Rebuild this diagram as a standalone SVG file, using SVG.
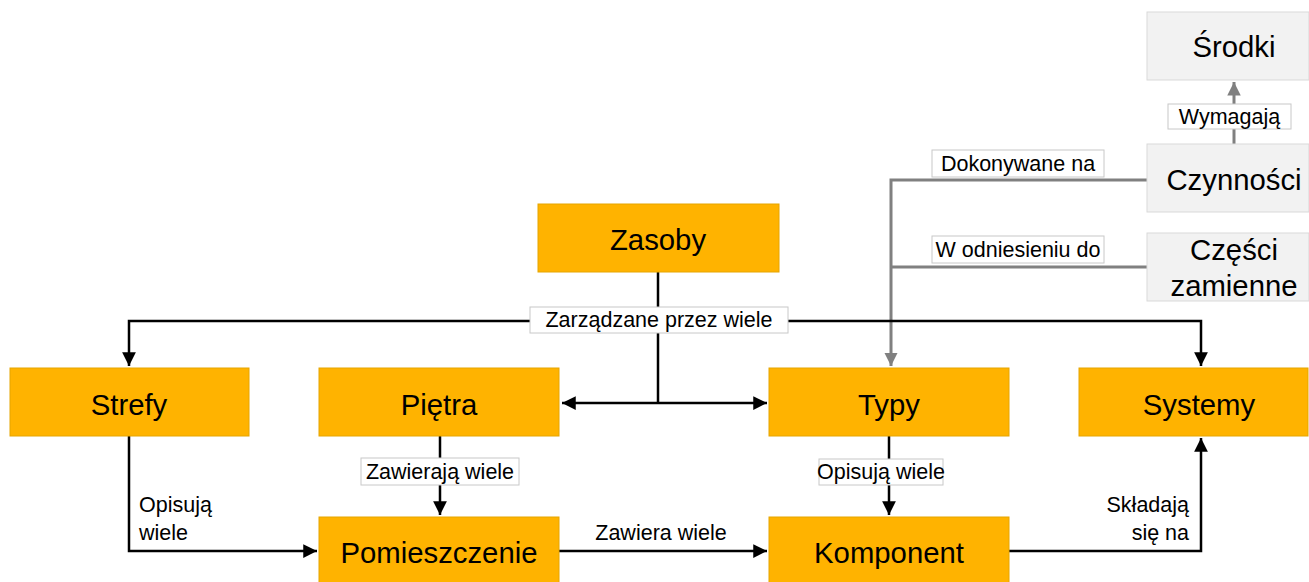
<svg xmlns="http://www.w3.org/2000/svg" width="1309" height="582" viewBox="0 0 1309 582">
<style>
.o{fill:#FFB300;stroke:#E6A500;stroke-width:1}
.g{fill:#F2F2F2;stroke:#D9D9D9;stroke-width:1}
.t{font-family:"Liberation Sans",Arial,sans-serif;font-size:29.3px;fill:#000;text-anchor:middle;dominant-baseline:central}
.l{font-family:"Liberation Sans",Arial,sans-serif;font-size:21.5px;fill:#000;dominant-baseline:central}
.lb{fill:#fff;stroke:#C8C8C8;stroke-width:1}
.k{fill:none;stroke:#000;stroke-width:2.5}
.gr{fill:none;stroke:#808080;stroke-width:3}
</style>
<defs>
<marker id="ab" viewBox="0 0 10 10" refX="10" refY="5" markerWidth="5.5" markerHeight="5.5" markerUnits="strokeWidth" orient="auto"><path d="M0,0 L10,5 L0,10 z" fill="#000"/></marker>
<marker id="ag" viewBox="0 0 10 10" refX="10" refY="5" markerWidth="4.5" markerHeight="4.5" markerUnits="strokeWidth" orient="auto"><path d="M0,0 L10,5 L0,10 z" fill="#808080"/></marker>
</defs>
<g id="connectors">
<path class="gr" d="M1234,144 V82" marker-end="url(#ag)"/>
<path class="gr" d="M1147,180 H891 V366" marker-end="url(#ag)"/>
<path class="gr" d="M1147,267 H891"/>
<path class="k" d="M658,272 V403"/>
<path class="k" d="M658,403 H562" marker-end="url(#ab)"/>
<path class="k" d="M658,403 H767" marker-end="url(#ab)"/>
<path class="k" d="M658,321 H129 V366" marker-end="url(#ab)"/>
<path class="k" d="M658,321 H1201 V366" marker-end="url(#ab)"/>
<path class="k" d="M129,436 V551 H317" marker-end="url(#ab)"/>
<path class="k" d="M440,436 V515" marker-end="url(#ab)"/>
<path class="k" d="M889,436 V515" marker-end="url(#ab)"/>
<path class="k" d="M559,551 H767" marker-end="url(#ab)"/>
<path class="k" d="M1009,551 H1201 V438" marker-end="url(#ab)"/>
<rect class="lb" x="1168" y="104" width="123" height="25"/>
<text class="l" x="1229.5" y="116.5" text-anchor="middle">Wymagają</text>
<rect class="lb" x="932" y="150" width="172" height="27"/>
<text class="l" x="1018" y="163.5" text-anchor="middle">Dokonywane na</text>
<rect class="lb" x="932" y="236" width="172" height="27"/>
<text class="l" x="1018" y="249.5" text-anchor="middle">W odniesieniu do</text>
<rect class="lb" x="530" y="307" width="258" height="26"/>
<text class="l" x="659" y="320" text-anchor="middle">Zarządzane przez wiele</text>
<rect class="lb" x="361" y="458" width="158" height="27"/>
<text class="l" x="440" y="471.5" text-anchor="middle">Zawierają wiele</text>
<rect class="lb" x="819" y="459" width="124" height="26"/>
<text class="l" x="881" y="472" text-anchor="middle">Opisują wiele</text>
<text class="l" x="139" y="505">Opisują</text>
<text class="l" x="139" y="533">wiele</text>
<text class="l" x="661" y="533" text-anchor="middle">Zawiera wiele</text>
<text class="l" x="1189" y="505" text-anchor="end">Składają</text>
<text class="l" x="1189" y="533" text-anchor="end">się na</text>
</g>
<g id="srodki"><rect class="g" x="1147" y="12" width="162" height="68"/><text class="t" x="1234" y="46">Środki</text></g>
<g id="czynnosci"><rect class="g" x="1147" y="144" width="162" height="68"/><text class="t" x="1234" y="179">Czynności</text></g>
<g id="czesci"><rect class="g" x="1147" y="233" width="162" height="68"/><text class="t" x="1234" y="249">Części</text><text class="t" x="1234" y="285">zamienne</text></g>
<g id="zasoby"><rect class="o" x="538" y="204" width="241" height="68"/><text class="t" x="658" y="239">Zasoby</text></g>
<g id="strefy"><rect class="o" x="10" y="368" width="239" height="68"/><text class="t" x="129" y="404">Strefy</text></g>
<g id="pietra"><rect class="o" x="319" y="368" width="240" height="68"/><text class="t" x="439" y="404">Piętra</text></g>
<g id="typy"><rect class="o" x="769" y="368" width="240" height="68"/><text class="t" x="889" y="404">Typy</text></g>
<g id="systemy"><rect class="o" x="1079" y="368" width="229" height="68"/><text class="t" x="1199" y="404">Systemy</text></g>
<g id="pomieszczenie"><rect class="o" x="319" y="517" width="240" height="68"/><text class="t" x="439" y="552">Pomieszczenie</text></g>
<g id="komponent"><rect class="o" x="769" y="517" width="240" height="68"/><text class="t" x="889" y="552">Komponent</text></g>
</svg>
